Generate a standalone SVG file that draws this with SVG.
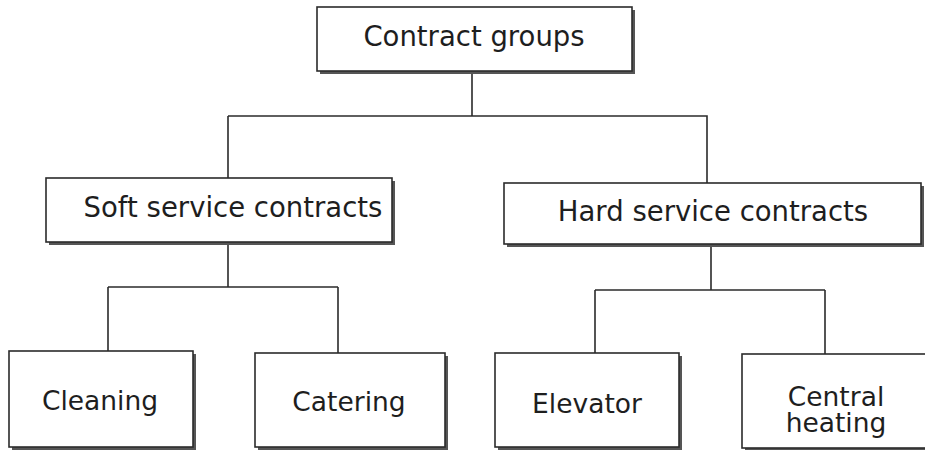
<svg xmlns="http://www.w3.org/2000/svg" width="925" height="450" viewBox="0 0 925 450">
<defs>
<style>
.box{fill:#fff;stroke:#2b2b2b;stroke-width:1.6}
.sh{fill:#555;stroke:none}
.t{font-family:"DejaVu Sans","Verdana",sans-serif;font-size:26.5px;fill:#1e1e1e;text-anchor:middle}
.big{font-size:27.5px}
.ln{fill:none;stroke:#2b2b2b;stroke-width:1.6}
</style>
</defs>
<rect width="925" height="450" fill="#fff"/>
<g id="connectors">
<path class="ln" d="M472 71V116M228 116H707V183M228 116V178"/>
<path class="ln" d="M228 242V287M108 287H338M108 287V351M338 287V353"/>
<path class="ln" d="M711 244V290M595 290H825M595 290V353M825 290V354"/>
</g>
<g id="n-contract-groups">
<rect class="sh" x="320" y="10" width="315" height="64"/>
<rect class="box" x="317" y="7" width="315" height="64"/>
<text class="t big" x="474" y="46">Contract groups</text>
</g>
<g id="n-soft">
<rect class="sh" x="49" y="181" width="346" height="64"/>
<rect class="box" x="46" y="178" width="346" height="64"/>
<text class="t big" x="233" y="217">Soft service contracts</text>
</g>
<g id="n-hard">
<rect class="sh" x="507" y="186" width="417" height="61"/>
<rect class="box" x="504" y="183" width="417" height="61"/>
<text class="t big" x="713" y="221">Hard service contracts</text>
</g>
<g id="n-cleaning">
<rect class="sh" x="12" y="354" width="184" height="96"/>
<rect class="box" x="9" y="351" width="184" height="96"/>
<text class="t" x="100" y="410">Cleaning</text>
</g>
<g id="n-catering">
<rect class="sh" x="258" y="356" width="190" height="94"/>
<rect class="box" x="255" y="353" width="190" height="94"/>
<text class="t" x="349" y="411">Catering</text>
</g>
<g id="n-elevator">
<rect class="sh" x="498" y="356" width="184" height="94"/>
<rect class="box" x="495" y="353" width="184" height="94"/>
<text class="t" x="587" y="413">Elevator</text>
</g>
<g id="n-central-heating">
<rect class="sh" x="745" y="357" width="200" height="94"/>
<rect class="box" x="742" y="354" width="200" height="94"/>
<text class="t" x="836" y="406">Central<tspan x="836" dy="26">heating</tspan></text>
</g>
</svg>
